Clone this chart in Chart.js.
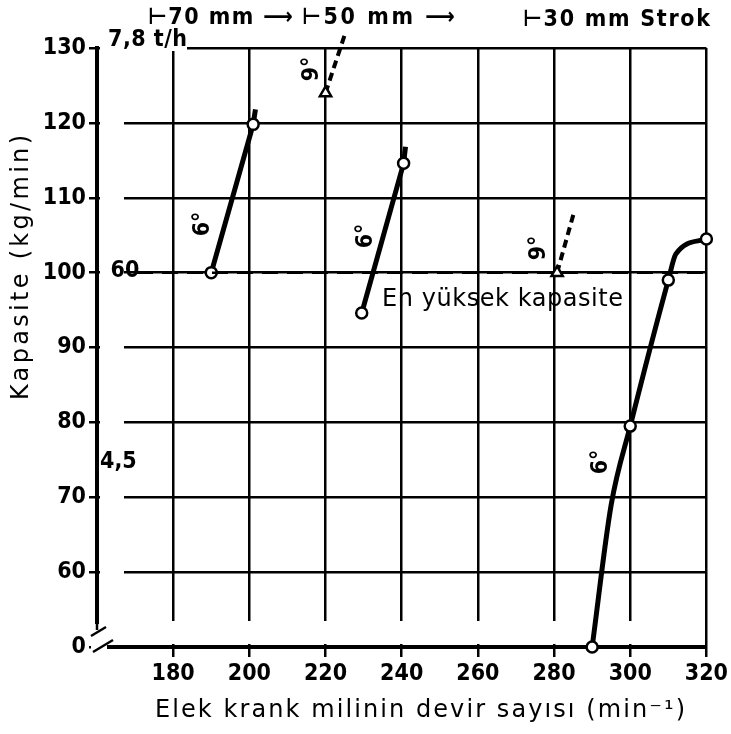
<!DOCTYPE html>
<html>
<head>
<meta charset="utf-8">
<script src="https://cdn.jsdelivr.net/npm/chart.js@4.4.1/dist/chart.umd.min.js"></script>
<style>
  html, body { margin: 0; padding: 0; background: #fff; }
  #wrap { width: 731px; height: 734px; }
</style>
</head>
<body>
<div id="wrap"><canvas id="chart" width="731" height="734"></canvas></div>
<script>
// axis break: the bottom tick (50 on the scale) is labelled "0"
const xTicks = [180, 200, 220, 240, 260, 280, 300, 320];
const yTicks = [50, 60, 70, 80, 90, 100, 110, 120, 130];
const yTickLabels = ["0", "60", "70", "80", "90", "100", "110", "120", "130"];

// 70 mm strok, 6°
const s70x = [190, 201, 201.6];
const s70y = [100, 119.8, 121.8];
const s70r = [5.5, 5.5, 0];

// 50 mm strok, 6°
const s50x = [229.5, 240.5, 241];
const s50y = [94.6, 114.6, 116.8];
const s50r = [5.5, 5.5, 0];

// 30 mm strok, 6° (curve)
const s30x = [290, 295, 300, 310, 312, 320];
const s30y = [50, 69, 79.5, 99, 102.5, 104.5];
const s30r = [5.5, 0, 5.5, 5.5, 0, 5.5];

// 9° (dashed)
const n50x = [220, 225];
const n50y = [124, 131.7];
const n30x = [280.8, 285.1];
const n30y = [100, 107.8];

// en yüksek kapasite
const topX = [170.5, 320];
const topY = [100, 100];

(function(){
  const FONT = '"DejaVu Sans Condensed", "Liberation Sans Narrow", sans-serif';
  const WIDE = '"DejaVu Sans", sans-serif';

  function pts(xs, ys) {
    return xs.map((x, i) => ({ x: x, y: ys[i] }));
  }

  function rotText(ctx, txt, x, y) {
    ctx.save();
    ctx.translate(x, y);
    ctx.rotate(-Math.PI / 2);
    ctx.fillText(txt, 0, 0);
    ctx.restore();
  }

  // text stretched to the width it has on the paper
  function spacedText(ctx, txt, x, y, width) {
    ctx.letterSpacing = "0px";
    const w = ctx.measureText(txt).width;
    const sp = (width - w) / Math.max(1, txt.length - 1);
    ctx.letterSpacing = sp + "px";
    ctx.fillText(txt, x, y);
    ctx.letterSpacing = "0px";
  }

  const decor = {
    id: "decor",
    beforeDatasetsDraw(chart) {
      const { ctx, chartArea: a } = chart;
      ctx.save();
      ctx.fillStyle = "#fff";
      // gaps between the grid and the axes, as on the paper
      ctx.fillRect(a.left + 3, a.top + 3, 124 - a.left - 3, a.bottom - a.top - 6);
      ctx.fillRect(a.left + 3, 621, a.right - a.left - 5, a.bottom - 3 - 621);
      ctx.fillRect(a.left + 3, a.top - 3, 187 - a.left - 3, 6);
      // axis break
      ctx.fillRect(a.left - 6, 624, 18, a.bottom + 5 - 624);
      ctx.strokeStyle = "#000";
      ctx.lineWidth = 2.5;
      ctx.beginPath();
      ctx.moveTo(a.left - 6, 636); ctx.lineTo(a.left + 9, 627);
      ctx.moveTo(a.left - 4, 652); ctx.lineTo(a.left + 16, 640);
      ctx.moveTo(a.left, 624); ctx.lineTo(a.left, 630);
      ctx.stroke();
      ctx.lineWidth = 4;
      ctx.beginPath();
      ctx.moveTo(a.left + 10, a.bottom); ctx.lineTo(a.left + 14, a.bottom);
      ctx.stroke();
      ctx.restore();
    },
    afterDraw(chart) {
      const { ctx } = chart;
      ctx.save();
      ctx.fillStyle = "#000";
      ctx.textBaseline = "middle";
      ctx.textAlign = "left";
      ctx.font = "600 23px " + FONT;
      spacedText(ctx, "⊢70 mm ⟶", 148, 18, 145);
      spacedText(ctx, "⊢50 mm ⟶", 302, 18, 153);
      spacedText(ctx, "⊢30 mm Strok", 523, 20, 187);
      spacedText(ctx, "7,8 t/h", 108, 40, 79);
      ctx.fillText("4,5", 100, 462);
      ctx.textAlign = "center";
      ctx.fillText("60", 125, 271);

      ctx.textAlign = "left";
      ctx.font = "500 24px " + WIDE;
      spacedText(ctx, "En yüksek kapasite", 382, 300, 241);

      ctx.textAlign = "center";
      ctx.font = "600 23px " + FONT;
      rotText(ctx, "6°", 203, 224);
      rotText(ctx, "6°", 366, 236);
      rotText(ctx, "6°", 601, 462);
      rotText(ctx, "9°", 312, 69);
      rotText(ctx, "9°", 539, 248);

      // axis titles
      ctx.font = "500 24px " + WIDE;
      ctx.textAlign = "left";
      spacedText(ctx, "Elek krank milinin devir sayısı (min⁻¹)", 155, 711, 530);
      ctx.save();
      ctx.translate(22, 400);
      ctx.rotate(-Math.PI / 2);
      spacedText(ctx, "Kapasite (kg/min)", 0, 0, 265);
      ctx.restore();
      ctx.restore();
    }
  };

  const solid = (xs, ys, rs, curve) => ({
    data: pts(xs, ys),
    showLine: true,
    borderColor: "#000",
    borderWidth: 5,
    pointRadius: rs,
    pointBackgroundColor: "#fff",
    pointBorderColor: "#000",
    pointBorderWidth: 2.5,
    cubicInterpolationMode: curve ? "monotone" : "default",
    tension: 0,
    clip: false
  });

  const dashed = (xs, ys) => ({
    data: pts(xs, ys),
    showLine: true,
    borderColor: "#000",
    borderWidth: 4,
    borderDash: [8, 5],
    pointRadius: [6.5, 0],
    pointStyle: "triangle",
    pointBackgroundColor: "#fff",
    pointBorderColor: "#000",
    pointBorderWidth: 2.5,
    clip: false
  });

  const tickFont = { family: FONT, size: 23, weight: "600" };

  new Chart(document.getElementById("chart"), {
    type: "scatter",
    data: {
      datasets: [
        {
          data: pts(topX, topY),
          showLine: true,
          borderColor: "#000",
          borderWidth: 2.5,
          borderDash: [16, 9],
          pointRadius: 0,
          clip: false
        },
        dashed(n50x, n50y),
        dashed(n30x, n30y),
        solid(s70x, s70y, s70r, false),
        solid(s50x, s50y, s50r, false),
        solid(s30x, s30y, s30r, true)
      ]
    },
    options: {
      responsive: false,
      animation: false,
      devicePixelRatio: 1,
      layout: { padding: { top: 48, right: 23, left: 0, bottom: 0 } },
      plugins: { legend: { display: false }, tooltip: { enabled: false } },
      scales: {
        x: {
          type: "linear",
          min: 160,
          max: 320,
          afterBuildTicks: s => { s.ticks = xTicks.map(v => ({ value: v })); },
          afterFit: s => { s.height = 87; },
          ticks: { color: "#000", font: tickFont, padding: 3, maxRotation: 0 },
          grid: { color: "#000", lineWidth: 2.5, tickLength: 10 },
          border: { color: "#000", width: 4 }
        },
        y: {
          type: "linear",
          min: 50,
          max: 130,
          afterBuildTicks: s => { s.ticks = yTicks.map(v => ({ value: v })); },
          afterFit: s => { s.width = 97; },
          ticks: {
            color: "#000",
            font: tickFont,
            padding: 3,
            callback: (v, i) => yTickLabels[i]
          },
          grid: { color: "#000", lineWidth: 2.5, tickLength: 8 },
          border: { color: "#000", width: 4 }
        }
      }
    },
    plugins: [decor]
  });
})();
</script>
</body>
</html>
